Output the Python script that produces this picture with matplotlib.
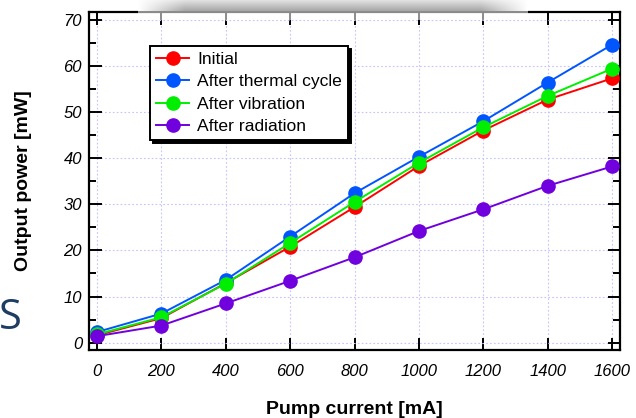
import numpy as np
import matplotlib

matplotlib.use("Agg")
import matplotlib.pyplot as plt
from matplotlib.ticker import MultipleLocator

plt.rcParams["font.family"] = ["Liberation Sans", "DejaVu Sans"]

# data
current = [0, 200, 400, 600, 800, 1000, 1200, 1400, 1600]
initial = [1.6, 5.3, 12.9, 20.8, 29.4, 38.3, 46.0, 52.7, 57.3]
thermal = [2.3, 6.3, 13.6, 23.0, 32.4, 40.3, 48.0, 56.4, 64.6]
vibration = [1.8, 5.5, 12.8, 21.6, 30.5, 39.0, 46.7, 53.5, 59.4]
radiation = [1.4, 3.7, 8.5, 13.4, 18.5, 24.2, 28.9, 34.0, 38.2]

series = [
    ("Initial", initial, "#ff0000"),
    ("After thermal cycle", thermal, "#0055ff"),
    ("After vibration", vibration, "#00ee00"),
    ("After radiation", radiation, "#7000dd"),
]
x_ticks = [0, 200, 400, 600, 800, 1000, 1200, 1400, 1600]
y_ticks = [0, 10, 20, 30, 40, 50, 60, 70]

fig = plt.figure(figsize=(6.36, 4.18), dpi=100)
ax = fig.add_axes([89 / 636, 68 / 418, 531 / 636, 338 / 418])

for label, vals, col in series:
    ax.plot(current, vals, "-o", color=col, lw=1.4, ms=9.5, label=label,
            clip_on=False, zorder=3)

ax.set_xlim(-25, 1625)
ax.set_ylim(-1.6, 71.7)
ax.set_xticks(x_ticks)
ax.set_yticks(y_ticks)
ax.yaxis.set_minor_locator(MultipleLocator(5))
ax.grid(True, which="major", color="#c4c4ff", ls=(0, (1.5, 2)), lw=0.8)
ax.set_axisbelow(True)

for sp in ax.spines.values():
    sp.set_linewidth(1.6)
ax.tick_params(which="both", direction="in", top=True, right=True, width=1.4)
ax.tick_params(which="major", length=9)
ax.tick_params(which="minor", length=5)
ax.tick_params(axis="x", pad=10)
ax.tick_params(axis="y", pad=5)
for t in ax.get_xticklabels() + ax.get_yticklabels():
    t.set_fontstyle("italic")
    t.set_fontsize(12)

ax.set_xlabel("Pump current [mA]", fontsize=14, fontweight="bold", labelpad=16)
ax.set_ylabel("Output power [mW]", fontsize=14, fontweight="bold", labelpad=23)

leg = ax.legend(loc="upper left", bbox_to_anchor=(0.115, 0.900), borderaxespad=0,
                fontsize=12.6, frameon=True, fancybox=False, labelspacing=0.4,
                handlelength=1.9, handletextpad=0.45, borderpad=0.35,
                shadow={"color": "black", "alpha": 1.0})
leg.get_frame().set_edgecolor("black")
leg.get_frame().set_linewidth(1.4)

# stray "S" at the left edge of the screenshot
fig.text(-1 / 636, 1 - 318 / 418, "S", fontsize=30, color="#1f3d63",
         va="center", ha="left", family="Open Sans")

# grey popup shadow over the top of the frame
x0, x1 = 138, 527
h, w = 20, x1 - x0
ov = fig.add_axes([x0 / 636, 1 - h / 418, w / 636, h / 418])
yy = np.arange(h)[:, None] * np.ones((1, w))
xx = np.linspace(0, 1, w)[None, :] * np.ones((h, 1))
ends = np.clip(np.minimum(xx, 1 - xx) / 0.12, 0, 1)
img = np.ones((h, w, 4))
top = yy < 11
shade = 1.0 - (0.12 + 0.22 * (yy / 10.0)) * ends
img[..., 0] = np.where(top, shade, 1.0)
img[..., 1] = np.where(top, shade, 1.0)
img[..., 2] = np.where(top, shade, 1.0)
img[..., 3] = np.where(top, 1.0, 0.55)
img[11:13, :, :3] = 0.55
img[11:13, :, 3] = 1.0
ov.imshow(img, aspect="auto", extent=(0, 1, 0, 1), interpolation="bilinear")
ov.set_axis_off()

fig.savefig("out.png", dpi=100)
